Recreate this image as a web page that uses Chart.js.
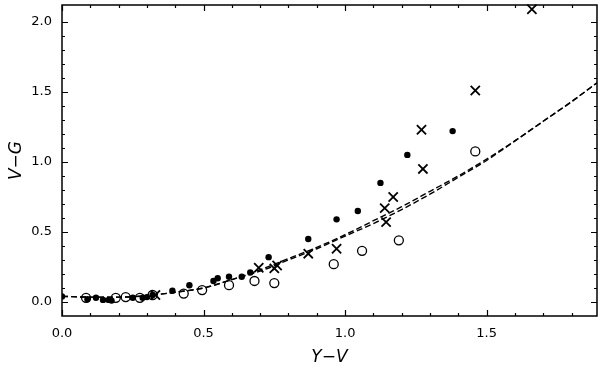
<!DOCTYPE html>
<html>
<head>
<meta charset="utf-8">
<script src="https://cdn.jsdelivr.net/npm/chart.js@4.4.0/dist/chart.umd.min.js"></script>
<style>
  html, body { margin: 0; padding: 0; background: #fff; }
  #wrap { width: 600px; height: 368px; }
</style>
</head>
<body>
<div id="wrap"><canvas id="c"></canvas></div>
<script>
// filled dots
var filledX = [0.00, 0.09, 0.12, 0.145, 0.165, 0.175, 0.25, 0.285, 0.30, 0.32, 0.39, 0.45, 0.535, 0.55, 0.59, 0.635, 0.665, 0.73, 0.87, 0.97, 1.045, 1.125, 1.22, 1.38];
var filledY = [0.04, 0.02, 0.03, 0.015, 0.015, 0.01, 0.03, 0.03, 0.035, 0.05, 0.08, 0.12, 0.15, 0.17, 0.18, 0.18, 0.21, 0.32, 0.45, 0.59, 0.65, 0.85, 1.05, 1.22];
// open circles
var openX = [0.085, 0.19, 0.225, 0.275, 0.32, 0.43, 0.495, 0.59, 0.68, 0.75, 0.96, 1.06, 1.19, 1.46];
var openY = [0.03, 0.03, 0.035, 0.03, 0.05, 0.06, 0.085, 0.12, 0.15, 0.135, 0.27, 0.365, 0.44, 1.075];
// crosses
var crossX = [0.33, 0.695, 0.76, 0.75, 0.87, 0.97, 1.145, 1.14, 1.17, 1.275, 1.27, 1.46, 1.66];
var crossY = [0.05, 0.245, 0.26, 0.24, 0.345, 0.38, 0.57, 0.67, 0.75, 0.95, 1.23, 1.51, 2.09];
// model curves
var curveX = [0, 0.1, 0.2, 0.3, 0.4, 0.5, 0.6, 0.7, 0.8, 0.9, 1.0, 1.1, 1.2, 1.3, 1.4, 1.5, 1.6, 1.7, 1.8, 1.9];
var curveA = [0.04, 0.035, 0.035, 0.045, 0.07, 0.10, 0.16, 0.22, 0.30, 0.38, 0.47, 0.56, 0.66, 0.77, 0.89, 1.01, 1.15, 1.29, 1.43, 1.58];
var curveB = [0.04, 0.035, 0.035, 0.045, 0.07, 0.10, 0.16, 0.23, 0.31, 0.39, 0.48, 0.58, 0.68, 0.79, 0.90, 1.02, 1.15, 1.29, 1.43, 1.58];

var xMajor = [0, 0.5, 1.0, 1.5];
var yMajor = [0, 0.5, 1.0, 1.5, 2.0];
var xMinor = [0.1, 0.2, 0.3, 0.4, 0.6, 0.7, 0.8, 0.9, 1.1, 1.2, 1.3, 1.4, 1.6, 1.7, 1.8];
var yMinor = [0.1, 0.2, 0.3, 0.4, 0.6, 0.7, 0.8, 0.9, 1.1, 1.2, 1.3, 1.4, 1.6, 1.7, 1.8, 1.9];

function pts(xs, ys) {
  return xs.map(function(x, i) { return { x: x, y: ys[i] }; });
}

var tickFont = { family: 'DejaVu Sans', size: 13 };
var titleFont = { family: 'DejaVu Sans', size: 17, style: 'italic' };

// frame and inward ticks on all four sides
var frameTicks = {
  id: 'frameTicks',
  afterDatasetsDraw: function(chart) {
    var ctx = chart.ctx, a = chart.chartArea;
    var xs = chart.scales.x, ys = chart.scales.y;
    ctx.save();
    ctx.strokeStyle = '#000';
    ctx.lineWidth = 1.5;
    ctx.strokeRect(a.left, a.top, a.right - a.left, a.bottom - a.top);
    ctx.lineWidth = 1.2;
    ctx.beginPath();
    function xt(v, len) {
      var p = Math.round(xs.getPixelForValue(v)) + 0.5;
      ctx.moveTo(p, a.bottom); ctx.lineTo(p, a.bottom - len);
      ctx.moveTo(p, a.top); ctx.lineTo(p, a.top + len);
    }
    function yt(v, len) {
      var p = Math.round(ys.getPixelForValue(v)) + 0.5;
      ctx.moveTo(a.left, p); ctx.lineTo(a.left + len, p);
      ctx.moveTo(a.right, p); ctx.lineTo(a.right - len, p);
    }
    xMajor.forEach(function(v) { xt(v, 6); });
    xMinor.forEach(function(v) { xt(v, 3); });
    yMajor.forEach(function(v) { yt(v, 6); });
    yMinor.forEach(function(v) { yt(v, 3); });
    ctx.stroke();
    ctx.restore();
  }
};

new Chart(document.getElementById('c'), {
  type: 'scatter',
  data: {
    datasets: [
      {
        label: 'curve A', type: 'line', data: pts(curveX, curveA),
        borderColor: '#000', borderWidth: 1.4, borderDash: [6, 3],
        pointRadius: 0, fill: false, cubicInterpolationMode: 'monotone'
      },
      {
        label: 'curve B', type: 'line', data: pts(curveX, curveB),
        borderColor: '#000', borderWidth: 1.4, borderDash: [6, 3],
        pointRadius: 0, fill: false, cubicInterpolationMode: 'monotone'
      },
      {
        label: 'filled', data: pts(filledX, filledY),
        pointStyle: 'circle', pointRadius: 3.2,
        backgroundColor: '#000', borderColor: '#000', borderWidth: 0
      },
      {
        label: 'open', data: pts(openX, openY),
        pointStyle: 'circle', pointRadius: 4.5,
        backgroundColor: 'rgba(255,255,255,0)', borderColor: '#000', borderWidth: 1.3
      },
      {
        label: 'cross', data: pts(crossX, crossY), clip: false,
        pointStyle: 'crossRot', pointRadius: 6.5,
        backgroundColor: '#000', borderColor: '#000', borderWidth: 1.8
      }
    ]
  },
  plugins: [frameTicks],
  options: {
    responsive: true,
    maintainAspectRatio: false,
    animation: false,
    layout: { autoPadding: false, padding: { top: 5, right: 3, left: 0, bottom: 0 } },
    plugins: {
      legend: { display: false },
      tooltip: { enabled: false }
    },
    scales: {
      x: {
        type: 'linear', min: 0, max: 1.89,
        grid: { display: false, drawTicks: false },
        border: { display: false },
        afterBuildTicks: function(s) { s.ticks = xMajor.map(function(v) { return { value: v }; }); },
        afterFit: function(s) { s.height = 52; s.paddingLeft = 0; s.paddingRight = 0; },
        ticks: {
          color: '#000', font: tickFont, padding: 10, maxRotation: 0,
          callback: function(v) { return Number(v).toFixed(1); }
        },
        title: { display: true, text: 'Y\u2212V', color: '#000', font: titleFont, padding: { top: 4, bottom: 0 } }
      },
      y: {
        type: 'linear', min: -0.1, max: 2.12,
        grid: { display: false, drawTicks: false },
        border: { display: false },
        afterBuildTicks: function(s) { s.ticks = yMajor.map(function(v) { return { value: v }; }); },
        afterFit: function(s) { s.width = 62; s.paddingTop = 0; s.paddingBottom = 0; },
        ticks: {
          color: '#000', font: tickFont, padding: 10,
          callback: function(v) { return Number(v).toFixed(1); }
        },
        title: { display: true, text: 'V\u2212G', color: '#000', font: titleFont, padding: { top: 6, bottom: 4 } }
      }
    }
  }
});
</script>
</body>
</html>
